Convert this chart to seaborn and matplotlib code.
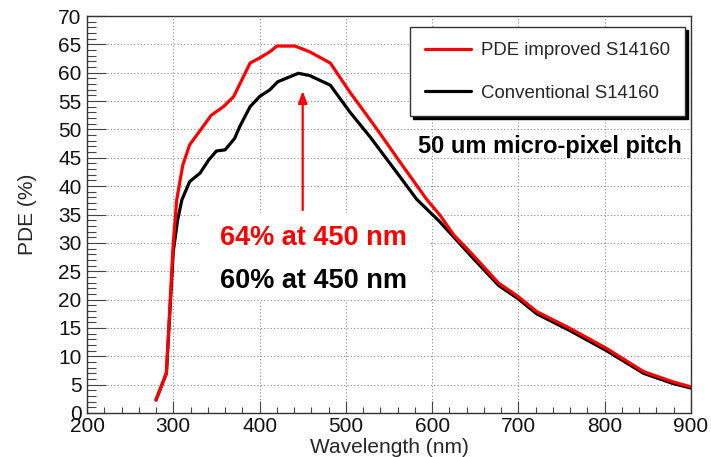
import matplotlib
matplotlib.use('Agg')
import matplotlib.pyplot as plt
import seaborn as sns
import pandas as pd

# PDE improved S14160 (red)
wl_improved = [280, 292, 300, 304, 311, 319, 333, 344, 358, 370, 380, 389, 400, 412,
               420, 441, 458, 482, 505, 520, 540, 563, 578, 594, 609, 625, 644, 677,
               700, 721, 760, 802, 845, 879, 900]
pde_improved = [2.3, 7.0, 30.0, 37.6, 43.7, 47.3, 50.2, 52.5, 54.0, 55.8, 58.9, 61.7, 62.6, 63.7,
                64.7, 64.7, 63.7, 61.7, 56.5, 53.4, 49.2, 44.2, 41.0, 37.6, 34.9, 31.4, 28.4, 22.9,
                20.5, 17.9, 14.9, 11.4, 7.3, 5.5, 4.6]

# Conventional S14160 (black)
wl_conv = [280, 292, 300, 305, 310, 319, 331, 341, 350, 360, 371, 377, 389, 400, 412, 421,
           445, 458, 482, 505, 528, 563, 582, 609, 648, 677, 700, 721, 760, 802, 845, 879, 900]
pde_conv = [2.3, 7.0, 28.5, 34.0, 37.6, 40.8, 42.3, 44.6, 46.2, 46.4, 48.4, 50.5, 54.0, 55.8, 57.0, 58.4,
            59.9, 59.5, 57.8, 53.0, 48.7, 41.6, 37.7, 33.7, 27.2, 22.5, 20.1, 17.5, 14.5, 11.0, 7.0, 5.2, 4.4]

labels = ['PDE improved S14160', 'Conventional S14160']
colors = ['#ff0000', '#000000']

sns.set_theme(style='ticks')
plt.rcParams['font.family'] = ['Liberation Sans', 'DejaVu Sans']

fig = plt.figure(figsize=(7.11, 4.57), dpi=100)
ax = fig.add_axes([87 / 711, 44 / 457, 604 / 711, 397 / 457])
ax.set_axisbelow(True)

df_conv = pd.DataFrame({'wl': wl_conv, 'pde': pde_conv})
df_imp = pd.DataFrame({'wl': wl_improved, 'pde': pde_improved})
# black first so the red curve sits on top
sns.lineplot(data=df_conv, x='wl', y='pde', color=colors[1], lw=2.3, ax=ax, label=labels[1], zorder=3)
sns.lineplot(data=df_imp, x='wl', y='pde', color=colors[0], lw=2.3, ax=ax, label=labels[0], zorder=4)

ax.set_xlim(200, 900)
ax.set_ylim(0, 70)
ax.set_xticks(range(200, 901, 100))
ax.set_xticks(range(200, 901, 20), minor=True)
ax.set_yticks(range(0, 71, 5))
ax.set_yticks(range(0, 71, 1), minor=True)
ax.tick_params(axis='both', which='both', direction='in', colors='#444444',
               labelcolor='#111111', labelsize=15)
ax.tick_params(axis='y', which='major', length=13.5, width=0.8, pad=4)
ax.tick_params(axis='y', which='minor', length=6.5, width=0.8)
ax.tick_params(axis='x', which='major', length=9, width=0.8, pad=3)
ax.tick_params(axis='x', which='minor', length=4, width=0.8)
ax.grid(True, which='major', color='#888888', linestyle=(0, (1, 2)), linewidth=0.8)
for s in ax.spines.values():
    s.set_visible(True)
    s.set_color('#333333')
    s.set_linewidth(1.0)

ax.set_xlabel('Wavelength (nm)', fontsize=15, va='baseline')
ax.xaxis.set_label_coords(0.5, -0.1008)
ax.set_ylabel('PDE (%)', fontsize=15, va='center')
ax.yaxis.set_label_coords(-0.0977, 0.5)

# white pad behind the annotation text
ax.add_patch(plt.Rectangle((331, 19.9), 267, 15.4, facecolor='white', edgecolor='none', zorder=1))
ax.annotate('', xy=(450, 57.3), xytext=(450, 35.3),
            arrowprops=dict(arrowstyle='-|>,head_length=0.6,head_width=0.22', color='#ff0000', lw=1.6),
            zorder=5)
ax.text(462, 29.6, '64% at 450 nm', color='#ff0000', fontsize=19.5, fontweight='bold',
        ha='center', va='baseline', zorder=5)
ax.text(462, 22.0, '60% at 450 nm', color='#000000', fontsize=19.5, fontweight='bold',
        ha='center', va='baseline', zorder=5)
ax.text(736, 45.8, '50 um micro-pixel pitch', color='#000000', fontsize=17, fontweight='bold',
        ha='center', va='baseline', zorder=5)

handles, _ = ax.get_legend_handles_labels()
leg = ax.legend(handles[::-1], labels, loc='upper right', bbox_to_anchor=(0.990, 0.972),
                borderaxespad=0, fontsize=13.4, frameon=True, fancybox=False,
                handlelength=2.47, handletextpad=0.55, labelspacing=1.37, borderpad=0.8,
                shadow={'ox': 2, 'oy': -2, 'color': 'black', 'alpha': 1})
leg.get_frame().set_edgecolor('#333333')
leg.get_frame().set_linewidth(1.0)
leg.get_frame().set_alpha(1)
leg.set_zorder(6)

fig.savefig('out.png', dpi=100)
